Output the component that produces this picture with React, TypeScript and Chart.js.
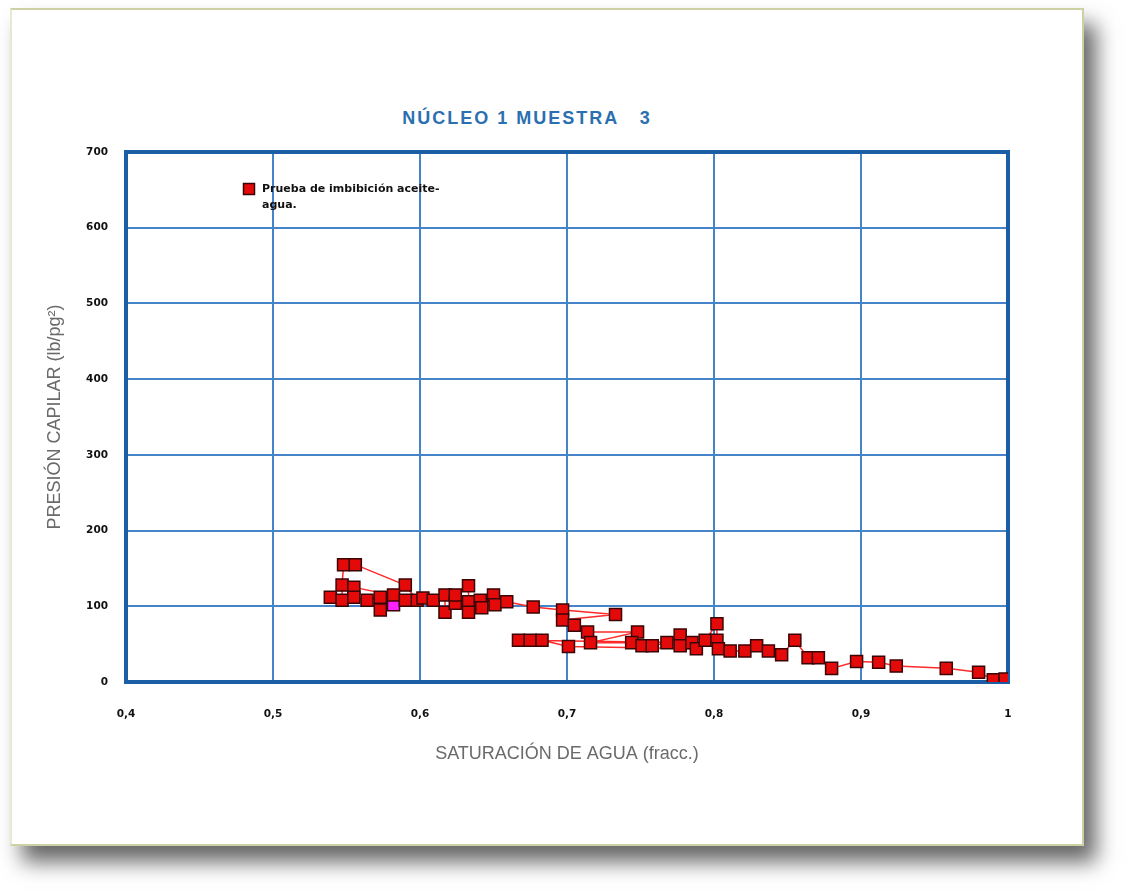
import React, { useEffect, useRef } from "react";
import { Chart, registerables } from "chart.js";

Chart.register(...registerables);

const TITLE = "NÚCLEO 1 MUESTRA   3";
const X_TITLE = "SATURACIÓN DE AGUA (fracc.)";
const Y_TITLE = "PRESIÓN CAPILAR (lb/pg²)";
const SERIES_LABEL = "Prueba de imbibición aceite-agua.";
const LEGEND_LINES = ["Prueba de imbibición aceite-", "agua."];

const X_TICKS = [0.4, 0.5, 0.6, 0.7, 0.8, 0.9, 1.0];
const Y_TICKS = [0, 100, 200, 300, 400, 500, 600, 700];

// Water saturation (fraction)
const SW = [
  0.539, 0.547, 0.547, 0.548, 0.556, 0.590, 0.598, 0.555, 0.555, 0.564,
  0.573, 0.573, 0.582, 0.582, 0.590, 0.602, 0.609, 0.617, 0.617, 0.624,
  0.624, 0.633, 0.633, 0.633, 0.641, 0.642, 0.650, 0.651, 0.659, 0.677,
  0.697, 0.733, 0.697, 0.705, 0.714, 0.748, 0.716, 0.744, 0.751, 0.758,
  0.768, 0.777, 0.777, 0.785, 0.667, 0.675, 0.683, 0.701, 0.788, 0.794,
  0.802, 0.802, 0.803, 0.811, 0.821, 0.829, 0.837, 0.846, 0.855, 0.864,
  0.871, 0.880, 0.897, 0.912, 0.924, 0.958, 0.980, 0.990, 0.998,
];

// Capillary pressure (lb/pg²)
const PC = [
  112, 108, 128, 155, 155, 128, 108, 125, 112, 108,
  112, 95, 102, 115, 108, 111, 108, 115, 92, 104,
  115, 127, 106, 92, 108, 98, 115, 102, 106, 99,
  95, 89, 82, 75, 66, 66, 52, 52, 48, 48,
  52, 62, 48, 52, 55, 55, 55, 47, 44, 55,
  77, 55, 44, 41, 41, 48, 41, 36, 55, 32,
  32, 18, 27, 26, 21, 18, 13, 3, 4,
];

const HIGHLIGHT_INDEX = 12;

const BLUE_FRAME = "#1b5ea6";
const BLUE_GRID = "#4584c9";
const POINT_RED = "#e40a0a";
const POINT_EDGE = "#3a0505";
const LINE_RED = "#ff2a2a";
const MAGENTA = "#ff22ff";

const fmtTick = (v: number) => (Math.abs(v - 1) < 1e-9 ? "1" : v.toFixed(1).replace(".", ","));

const framePlugin = {
  id: "frameAndLegend",
  beforeDatasetsDraw(chart: any) {
    const { ctx, chartArea: a } = chart;
    ctx.save();
    ctx.strokeStyle = BLUE_FRAME;
    ctx.lineWidth = 4;
    ctx.strokeRect(a.left, a.top, a.right - a.left, a.bottom - a.top);
    ctx.restore();
  },
  afterDraw(chart: any) {
    const { ctx, chartArea: a } = chart;
    const mx = a.left + 123;
    const my = a.top + 37;
    ctx.save();
    ctx.fillStyle = POINT_RED;
    ctx.strokeStyle = POINT_EDGE;
    ctx.lineWidth = 1.5;
    ctx.fillRect(mx - 5.5, my - 5.5, 11, 11);
    ctx.strokeRect(mx - 5.5, my - 5.5, 11, 11);
    ctx.fillStyle = "#111";
    ctx.font = "bold 11px 'DejaVu Sans', sans-serif";
    ctx.textBaseline = "middle";
    ctx.textAlign = "left";
    LEGEND_LINES.forEach((t, i) => ctx.fillText(t, mx + 13, my + i * 16));
    ctx.restore();
  },
};

export default function App() {
  const ref = useRef<HTMLCanvasElement | null>(null);

  useEffect(() => {
    if (!ref.current) return;
    const data = SW.map((x, i) => ({ x, y: PC[i] }));
    const chart = new Chart(ref.current, {
      type: "scatter",
      data: {
        datasets: [
          {
            label: SERIES_LABEL,
            data,
            showLine: true,
            borderColor: LINE_RED,
            borderWidth: 1.5,
            pointStyle: "rect",
            pointRadius: 8.5,
            pointBorderWidth: 1.5,
            pointBorderColor: POINT_EDGE,
            pointBackgroundColor: (c: any) => (c.dataIndex === HIGHLIGHT_INDEX ? MAGENTA : POINT_RED),
          },
        ],
      },
      options: {
        animation: false,
        responsive: false,
        layout: { padding: { left: 40, right: 118, top: 152, bottom: 118 } },
        plugins: {
          legend: { display: false },
          title: { display: false },
          tooltip: { enabled: false },
        },
        scales: {
          x: {
            type: "linear",
            min: 0.4,
            max: 1.0,
            afterBuildTicks: (s: any) => {
              s.ticks = X_TICKS.map((v) => ({ value: v }));
            },
            afterFit: (s: any) => {
              s.height = 90;
            },
            ticks: {
              callback: (v: any) => fmtTick(Number(v)),
              color: "#111",
              padding: 26,
              font: { family: "'DejaVu Sans', sans-serif", size: 10.5, weight: "bold" },
            },
            grid: { color: BLUE_GRID, lineWidth: 2, drawTicks: false },
            border: { display: false },
            title: {
              display: true,
              text: X_TITLE,
              color: "#6a6a6a",
              padding: { top: 0, bottom: 7 },
              font: { family: "'Liberation Sans', Arial, sans-serif", size: 18, weight: "normal" },
            },
          },
          y: {
            type: "linear",
            min: 0,
            max: 700,
            afterBuildTicks: (s: any) => {
              s.ticks = Y_TICKS.map((v) => ({ value: v }));
            },
            afterFit: (s: any) => {
              s.width = 86;
            },
            ticks: {
              color: "#111",
              padding: 18,
              font: { family: "'DejaVu Sans', sans-serif", size: 10.5, weight: "bold" },
            },
            grid: { color: BLUE_GRID, lineWidth: 2, drawTicks: false },
            border: { display: false },
            title: {
              display: true,
              text: Y_TITLE,
              color: "#6a6a6a",
              padding: { top: 4, bottom: 0 },
              font: { family: "'Liberation Sans', Arial, sans-serif", size: 18, weight: "normal" },
            },
          },
        },
      },
      plugins: [framePlugin],
    });
    return () => chart.destroy();
  }, []);

  return (
    <div style={{ position: "fixed", left: 0, top: 0, width: 1126, height: 890, background: "#fff", overflow: "hidden" }}>
      <div
        style={{
          position: "absolute",
          left: 10,
          top: 8,
          width: 1070,
          height: 834,
          background: "#fff",
          border: "2px solid #cdd0a2",
          borderLeftColor: "#e6e8d4",
          boxShadow: "12px 16px 20px rgba(0,0,0,0.6)",
        }}
      />
      <div
        style={{
          position: "absolute",
          left: 0,
          width: 1054,
          top: 106,
          textAlign: "center",
          whiteSpace: "pre",
          color: "#2b6fb0",
          fontFamily: "'Liberation Sans', Arial, sans-serif",
          fontWeight: "bold",
          fontSize: 18,
          letterSpacing: 2,
          lineHeight: "24px",
        }}
      >
        {TITLE}
      </div>
      <canvas ref={ref} width={1126} height={890} style={{ position: "absolute", left: 0, top: 0 }} />
    </div>
  );
}
